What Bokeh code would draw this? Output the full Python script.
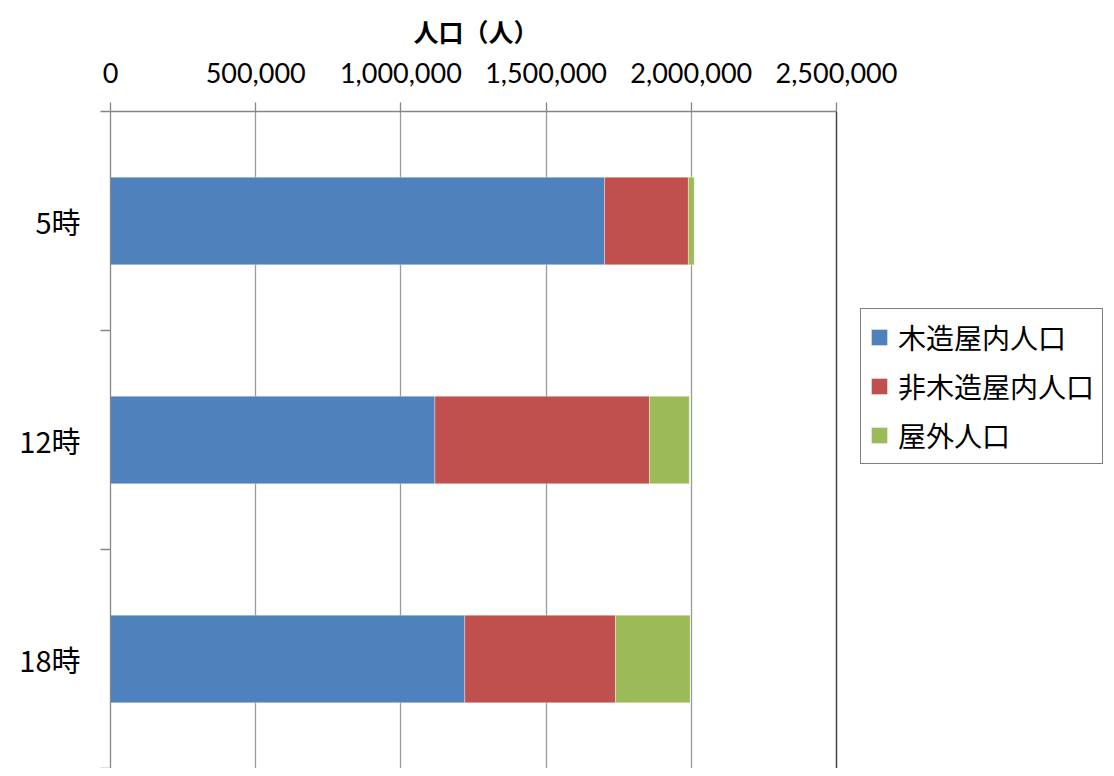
from bokeh.plotting import figure
from bokeh.models import (FactorRange, Range1d, LinearAxis, CategoricalAxis, FixedTicker, Span, Title,
                          NumeralTickFormatter, Legend, LegendItem, ColumnDataSource)
from bokeh.embed import file_html
from bokeh.resources import INLINE

# ---- data ----
hours = ["5時", "12時", "18時"]
wooden = [1701000, 1117000, 1220000]       # 木造屋内人口
nonwooden = [289000, 739000, 519000]      # 非木造屋内人口
outdoor = [20000, 137000, 257000]         # 屋外人口
series_keys = ["wooden", "nonwooden", "outdoor"]
series_labels = ["木造屋内人口", "非木造屋内人口", "屋外人口"]
colors = ["#4F81BD", "#C0504D", "#9BBB59"]
x_ticks = [0, 500000, 1000000, 1500000, 2000000, 2500000]
axis_title = "人口（人）"

JP = "Noto Sans CJK JP"
GRID = "#9A9A9A"
AXIS = "#868686"

# layout geometry: axis spans 726 px for 0..2.5M; frame continues to the right edge (legend area)
W, H = 1106, 768
LEFT, TOP = 110, 108
AXIS_PX = 726
x_max = x_ticks[-1]
x_end = x_max * (W - LEFT) / AXIS_PX

source = ColumnDataSource(dict(hours=hours, wooden=wooden, nonwooden=nonwooden, outdoor=outdoor))

p = figure(width=W, height=H,
           y_range=FactorRange(factors=hours[::-1]),
           x_range=Range1d(0, x_end),
           x_axis_location="above", y_axis_location=None,
           output_backend="svg", toolbar_location=None,
           min_border_left=LEFT, min_border_right=0,
           min_border_top=TOP, min_border_bottom=0)

renderers = p.hbar_stack(series_keys, y="hours", height=0.4, source=source,
                         fill_color=colors, line_color="white", line_alpha=0.35, line_width=1)

# top x axis
xa = p.xaxis[0]
xa.bounds = (0, x_max)
xa.ticker = FixedTicker(ticks=x_ticks)
xa.formatter = NumeralTickFormatter(format="0,0")
xa.axis_line_color = AXIS
xa.axis_line_width = 1.3
xa.major_tick_line_color = AXIS
xa.major_tick_line_width = 1.3
xa.major_tick_out = 9
xa.major_tick_in = 0
xa.minor_tick_line_color = None
xa.major_label_text_font = "Lato"
xa.major_label_text_font_size = "27px"
xa.major_label_text_color = "#000000"
xa.major_label_standoff = 20

# axis title, centred over the 0..2.5M axis span
title = Title(text=axis_title, align="left", offset=(AXIS_PX - 120) / 2,
              text_font=JP, text_font_style="bold", text_font_size="25px",
              text_color="#000000", standoff=21)
p.add_layout(title, "above")

for g in p.grid:
    if g.dimension == 0:
        g.grid_line_color = GRID
        g.grid_line_width = 1.3
        g.ticker = FixedTicker(ticks=x_ticks)
    else:
        g.visible = False
p.outline_line_color = None

# right border of the plot area
p.add_layout(Span(location=x_max, dimension="height", line_color="#404040", line_width=1.3))

# left: category-boundary ticks (inner, on the factor range's synthetic coords) + labels (outer)
bounds = list(range(len(hours) + 1))
tick_axis = LinearAxis(ticker=FixedTicker(ticks=bounds))
tick_axis.axis_line_color = AXIS
tick_axis.axis_line_width = 1.3
tick_axis.major_tick_line_color = AXIS
tick_axis.major_tick_line_width = 1.3
tick_axis.major_tick_out = 10
tick_axis.major_tick_in = 0
tick_axis.minor_tick_line_color = None
tick_axis.major_label_overrides = {b: "" for b in bounds}
tick_axis.major_label_standoff = 0
p.add_layout(tick_axis, "left")

cat_axis = CategoricalAxis()
cat_axis.axis_line_color = None
cat_axis.major_tick_line_color = None
cat_axis.major_tick_out = 0
cat_axis.major_tick_in = 0
cat_axis.major_label_text_font = JP
cat_axis.major_label_text_font_size = "29px"
cat_axis.major_label_text_color = "#000000"
cat_axis.major_label_standoff = 20
p.add_layout(cat_axis, "left")

items = [LegendItem(label=lab, renderers=[r]) for lab, r in zip(series_labels, renderers)]
legend = Legend(items=items, location=(750, 304))
legend.label_text_font = JP
legend.label_text_font_size = "28px"
legend.label_text_color = "#000000"
legend.glyph_width = 20
legend.glyph_height = 20
legend.label_standoff = 9
legend.padding = 8
legend.spacing = 9
legend.margin = 0
legend.border_line_color = "#000000"
legend.border_line_width = 1.5
legend.background_fill_color = "white"
p.add_layout(legend)

open("out.html", "w").write(file_html(p, INLINE))
